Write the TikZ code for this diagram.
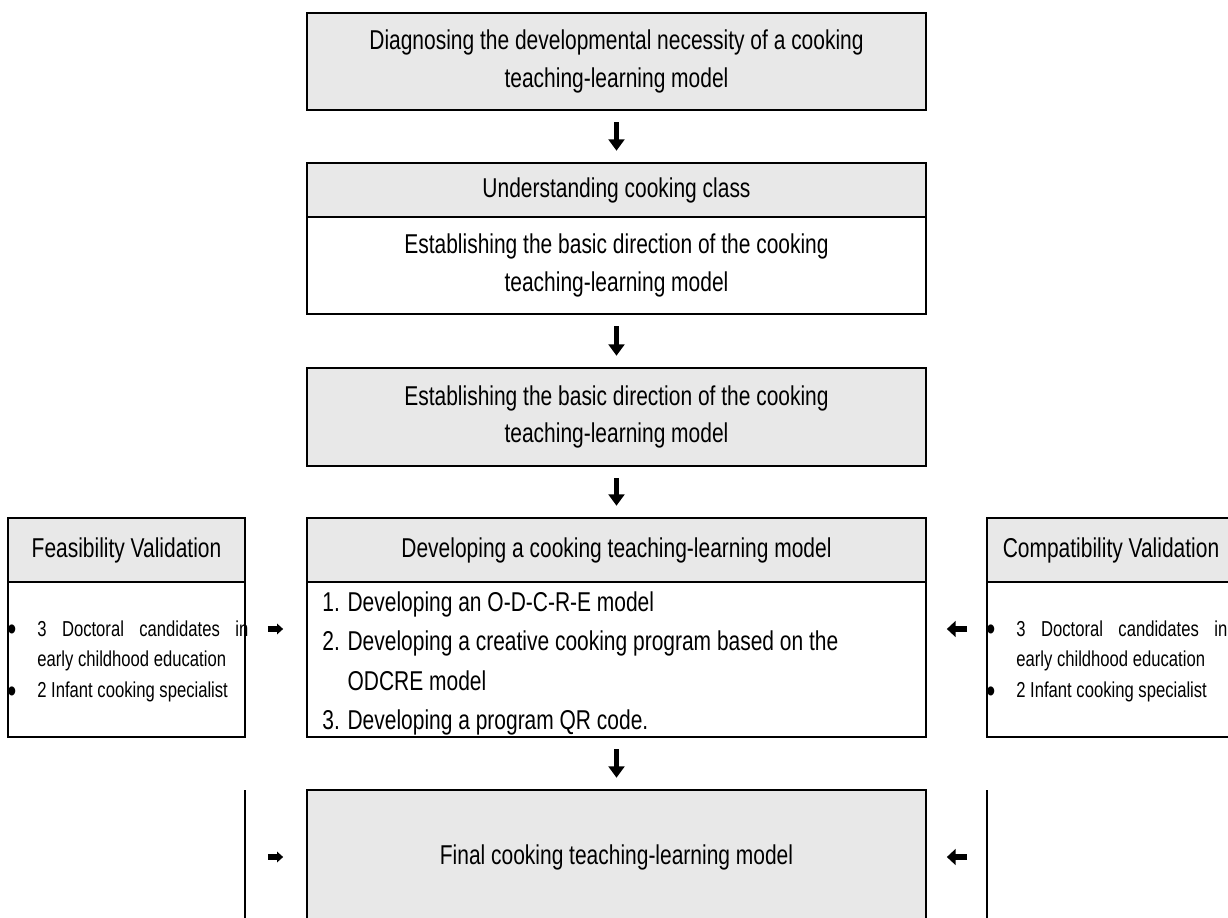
\documentclass[tikz,border=0pt]{standalone}
\usepackage{fontspec}
\setmainfont{Liberation Sans}[FakeStretch=0.77]
\usetikzlibrary{arrows.meta}
\usetikzlibrary{positioning}
\definecolor{boxgray}{RGB}{232,232,232}

\begin{document}
\begin{tikzpicture}[
  x=0.02cm,
  y=-0.02cm,
  every node/.style={font=\fontsize{15.5}{21.5}\selectfont},
  graybox/.style={draw, line width=1.1pt, fill=boxgray, minimum width=12.38cm, align=center, inner sep=0pt, outer sep=0pt},
  whitebox/.style={draw, line width=1.1pt, fill=white, minimum width=12.38cm, align=center, inner sep=0pt, outer sep=0pt},
  sidehead/.style={draw, line width=1.1pt, fill=boxgray, minimum width=4.74cm, minimum height=1.28cm, inner sep=0pt, outer sep=0pt},
  sidebody/.style={draw, line width=1.1pt, fill=white, minimum width=4.74cm, minimum height=3.1cm, inner sep=0pt, outer sep=0pt},
  sidetext/.style={font=\fontsize{12.3}{17.6}\selectfont, text width=4.22cm, align=justify, inner sep=0pt, anchor=north west},
  dnarrow/.style={-{Triangle[width=9pt,length=6.5pt]}, line width=2.6pt, shorten <=7pt, shorten >=7pt},
  rtarrow/.style={-{Triangle[width=6pt,length=3.5pt]}, line width=3pt, shorten <=13pt, shorten >=13.6pt},
  ltarrow/.style={-{Triangle[width=9pt,length=5pt]}, line width=3.6pt, shorten <=11.3pt, shorten >=11.9pt}
]

\clip (0,0) rectangle (1228,917);

\def\mx{616.5}  % centre of the middle column
\def\bul{\llap{{\fontsize{19}{17.6}\selectfont\raisebox{-2.8pt}{\textbullet}}\hspace{0.42cm}}}

% middle column
\node[graybox, minimum height=1.94cm] (diag) at (\mx,61.5)
  {Diagnosing the developmental necessity of a cooking\\teaching-learning model};

\node[graybox, minimum height=1.08cm] (undhd) at (\mx,190) {Understanding cooking class};
\node[whitebox, minimum height=1.94cm, below=0pt of undhd] (undbody)
  {Establishing the basic direction of the cooking\\teaching-learning model};

\node[graybox, minimum height=1.96cm] (basic) at (\mx,417)
  {Establishing the basic direction of the cooking\\teaching-learning model};

\node[graybox, minimum height=1.28cm] (devhd) at (\mx,550) {Developing a cooking teaching-learning model};
\node[whitebox, minimum height=3.1cm, below=0pt of devhd] (devbody) {};
\node[align=left, anchor=north west, inner sep=0pt] (devlist) at (322,591)
  {1. Developing an O-D-C-R-E model\\[1pt]
   2. Developing a creative cooking program based on the\\[1pt]
   \phantom{2. }ODCRE model\\[1pt]
   3. Developing a program QR code.};

\node[graybox, minimum height=2.68cm] (final) at (\mx,857) {Final cooking teaching-learning model};

% side columns
\node[sidehead] (fvhd) at (126.5,550) {Feasibility Validation};
\node[sidebody, below=0pt of fvhd] (fvbody) {};
\node[sidetext] (fvlist) at (37,620)
  {\bul 3 Doctoral candidates in\linebreak early childhood education\\
   \bul 2 Infant cooking specialist};

\node[sidehead, minimum width=4.96cm] (cvhd) at (1111,550) {Compatibility Validation};
\node[sidebody, minimum width=4.96cm, below=0pt of cvhd] (cvbody) {};
\node[sidetext] (cvlist) at (1016,620)
  {\bul 3 Doctoral candidates in\linebreak early childhood education\\
   \bul 2 Infant cooking specialist};

\coordinate (ltop) at (245,790);
\coordinate (lmid) at (245,857);
\coordinate (lbot) at (245,930);
\coordinate (rtop) at (987,790);
\coordinate (rmid) at (987,857);
\coordinate (rbot) at (987,930);
\draw[line width=1.1pt] (ltop) -- (lbot);
\draw[line width=1.1pt] (rtop) -- (rbot);

% arrows
\draw[dnarrow] (diag) -- (undhd);
\draw[dnarrow] (undbody) -- (basic);
\draw[dnarrow] (basic) -- (devhd);
\draw[dnarrow] (devbody) -- (final);

\draw[rtarrow] ([yshift=0.61cm]fvbody.east) -- ([yshift=0.61cm]devbody.west);
\draw[ltarrow] ([yshift=0.61cm]cvbody.west) -- ([yshift=0.61cm]devbody.east);
\draw[rtarrow] (lmid) -- (final);
\draw[ltarrow] (rmid) -- (final);

\end{tikzpicture}
\end{document}
